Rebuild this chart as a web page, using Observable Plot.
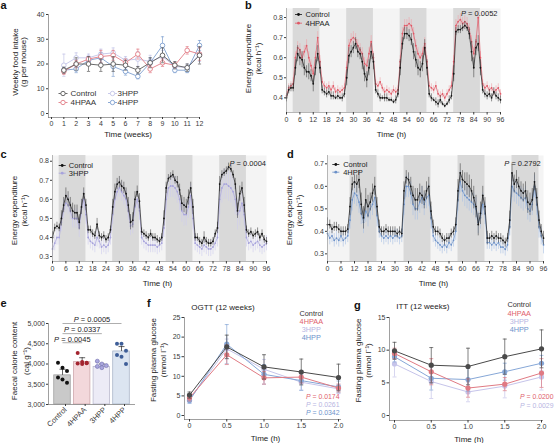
<!DOCTYPE html>
<html><head><meta charset="utf-8">
<script src="https://cdn.jsdelivr.net/npm/d3@7"></script>
<script src="https://cdn.jsdelivr.net/npm/@observablehq/plot@0.6"></script>
<style>
body{margin:0;background:#fff;}
#fig{position:relative;width:554px;height:443px;overflow:hidden;font-family:"Liberation Sans",Arial,Helvetica,sans-serif;}
.lab{position:absolute;font-weight:bold;font-size:11px;line-height:11px;color:#111;}
</style></head>
<body><div id="fig"></div>
<script>
// ---------------- DATA ----------------
const groups = ["Control","4HPAA","3HPP","4HPP"];

// (a) weekly food intake
const foodWeeks = [1,2,3,4,5,6,7,8,9,10,11,12];
const foodCtrl     = [17.5,20,20,19.5,20,19.5,17.5,20.5,23.5,19.5,18.5,23.5];
const foodCtrlErr  = [1.2,2.5,3,2.5,3,2,1.5,2,3,1.5,1.5,3.5];
const food4HPAA    = [17,20,22,23,23.5,20.5,24,18,20.5,19.5,25.5,24];
const food4HPAAErr = [1.2,1.5,1,2.5,2,1.5,2,1.5,1.5,1,1.5,2.5];
const food3HPP     = [19.5,22.5,22.5,24,24.5,21.5,22,21,23,19,18.5,24];
const food3HPPErr  = [4.5,2,1.5,2,2,1.5,3,2.5,2.5,1.5,1.5,3];
const food4HPP     = [17.5,18,21.5,22.5,19,17,15,20.5,27.5,17.5,17.5,27.5];
const food4HPPErr  = [1,1.5,1,2,4,1.5,1,2,3.5,1,1,2];

// (b,c,d) energy expenditure, hourly 0..96 h
const hours = d3.range(0, 97);
const hourTicks = [0,6,12,18,24,30,36,42,48,54,60,66,72,78,84,90,96];
const darkBD = [[3,15],[27,39],[51,63],[75,87]];
const darkD  = [[10,22],[34,46],[58,70],[82,94]];

const bCtrl = [
0.40,0.44,0.45,0.45,0.55,0.62,0.60,0.59,0.55,0.53,0.53,0.51,
0.47,0.55,0.62,0.55,0.44,0.43,0.42,0.43,0.41,0.41,0.40,0.41,
0.40,0.40,0.42,0.50,0.61,0.63,0.65,0.67,0.63,0.62,0.58,0.52,
0.49,0.55,0.63,0.58,0.44,0.42,0.40,0.40,0.40,0.40,0.39,0.39,
0.38,0.39,0.42,0.55,0.67,0.72,0.72,0.71,0.69,0.63,0.59,0.55,
0.54,0.57,0.65,0.55,0.42,0.40,0.39,0.38,0.37,0.39,0.37,0.36,
0.37,0.39,0.41,0.52,0.73,0.74,0.74,0.75,0.76,0.75,0.72,0.63,
0.55,0.65,0.67,0.55,0.44,0.42,0.41,0.42,0.40,0.43,0.41,0.40,
0.39];
const bCtrlErr = [
.02,.02,.02,.02,.04,.04,.04,.04,.04,.03,.04,.03,
.04,.04,.04,.03,.02,.02,.02,.02,.02,.02,.01,.02,
.01,.02,.02,.04,.04,.03,.03,.03,.03,.03,.04,.04,
.04,.04,.04,.04,.02,.02,.02,.01,.02,.02,.01,.01,
.01,.02,.02,.04,.03,.03,.03,.03,.03,.04,.04,.04,
.04,.04,.04,.04,.02,.02,.01,.02,.02,.02,.01,.01,
.01,.02,.02,.04,.02,.02,.02,.02,.02,.02,.03,.05,
.05,.04,.04,.04,.02,.02,.02,.02,.02,.02,.02,.02,
.02];
const b4HPAA = [
0.41,0.45,0.46,0.47,0.60,0.65,0.64,0.60,0.63,0.66,0.60,0.56,
0.52,0.60,0.70,0.58,0.48,0.46,0.45,0.46,0.44,0.46,0.43,0.44,
0.43,0.44,0.45,0.55,0.66,0.69,0.70,0.69,0.66,0.64,0.62,0.57,
0.56,0.62,0.68,0.60,0.47,0.46,0.48,0.45,0.43,0.44,0.43,0.42,
0.44,0.43,0.44,0.58,0.72,0.76,0.76,0.77,0.76,0.72,0.66,0.62,
0.60,0.62,0.67,0.58,0.46,0.45,0.44,0.46,0.42,0.41,0.42,0.40,
0.42,0.44,0.46,0.58,0.76,0.78,0.79,0.77,0.78,0.77,0.74,0.68,
0.62,0.68,0.80,0.60,0.47,0.45,0.46,0.44,0.45,0.43,0.44,0.45,
0.42];
const b4HPAAErr = [
.02,.02,.02,.03,.03,.03,.03,.03,.03,.03,.03,.03,
.03,.03,.03,.03,.02,.02,.02,.02,.02,.02,.02,.02,
.02,.02,.02,.03,.03,.03,.03,.03,.03,.03,.03,.03,
.03,.03,.03,.03,.02,.02,.02,.02,.02,.02,.02,.02,
.02,.02,.02,.03,.03,.03,.03,.03,.03,.03,.03,.03,
.03,.03,.03,.03,.02,.02,.02,.02,.02,.02,.02,.02,
.02,.02,.02,.03,.03,.03,.03,.03,.03,.03,.03,.03,
.03,.03,.03,.03,.02,.02,.02,.02,.02,.02,.02,.02,
.02];

const cCtrl = [
0.40,0.45,0.46,0.45,0.50,0.57,0.62,0.60,0.57,0.54,0.53,0.53,
0.48,0.56,0.63,0.57,0.44,0.44,0.42,0.41,0.47,0.41,0.40,0.41,
0.39,0.40,0.44,0.56,0.64,0.68,0.69,0.67,0.66,0.63,0.57,0.48,
0.49,0.60,0.64,0.59,0.43,0.42,0.41,0.40,0.42,0.40,0.40,0.39,
0.38,0.40,0.50,0.66,0.71,0.72,0.73,0.70,0.69,0.65,0.58,0.57,
0.56,0.61,0.66,0.56,0.40,0.40,0.38,0.37,0.40,0.38,0.37,0.37,
0.38,0.42,0.45,0.68,0.73,0.74,0.75,0.77,0.76,0.73,0.68,0.54,
0.63,0.66,0.57,0.44,0.42,0.43,0.41,0.42,0.43,0.40,0.42,0.39,
0.38];
const cCtrlErr = [
.03,.02,.02,.02,.04,.04,.04,.04,.04,.04,.04,.04,
.04,.04,.03,.03,.02,.02,.02,.02,.03,.02,.02,.02,
.02,.02,.02,.04,.04,.03,.03,.03,.03,.03,.04,.04,
.04,.04,.03,.04,.02,.02,.02,.02,.02,.02,.02,.02,
.02,.02,.04,.03,.02,.02,.02,.02,.03,.03,.04,.04,
.04,.04,.03,.04,.02,.02,.02,.02,.03,.02,.02,.02,
.02,.02,.03,.04,.02,.02,.02,.02,.02,.02,.03,.04,
.04,.03,.04,.02,.02,.02,.02,.02,.02,.02,.02,.02,
.02];
const c3HPP = [
0.34,0.37,0.40,0.40,0.48,0.55,0.58,0.57,0.54,0.50,0.50,0.50,
0.45,0.55,0.60,0.52,0.40,0.38,0.37,0.36,0.40,0.38,0.35,0.36,
0.35,0.36,0.40,0.52,0.60,0.64,0.66,0.64,0.62,0.60,0.54,0.46,
0.47,0.56,0.60,0.54,0.40,0.38,0.37,0.36,0.36,0.36,0.36,0.35,
0.36,0.37,0.45,0.60,0.66,0.67,0.67,0.66,0.64,0.60,0.54,0.52,
0.52,0.56,0.62,0.50,0.37,0.36,0.35,0.34,0.36,0.35,0.34,0.34,
0.35,0.37,0.40,0.60,0.66,0.68,0.68,0.67,0.66,0.64,0.60,0.52,
0.54,0.58,0.52,0.40,0.37,0.38,0.36,0.37,0.38,0.36,0.35,0.36,
0.37];
const c3HPPErr = [
.04,.04,.04,.04,.05,.05,.05,.05,.05,.05,.05,.05,
.05,.05,.05,.05,.04,.04,.04,.04,.05,.04,.04,.04,
.04,.04,.04,.05,.05,.05,.05,.05,.05,.05,.05,.05,
.05,.05,.05,.05,.04,.04,.04,.04,.04,.04,.04,.04,
.04,.04,.05,.06,.06,.06,.06,.06,.06,.06,.06,.06,
.06,.06,.06,.06,.04,.04,.04,.04,.04,.04,.04,.04,
.04,.04,.05,.08,.08,.08,.08,.08,.08,.08,.08,.08,
.08,.08,.06,.05,.04,.04,.04,.04,.04,.04,.04,.04,
.04];

const dCtrl = [
0.43,0.43,0.41,0.42,0.42,0.41,0.40,0.40,0.40,0.41,0.51,0.61,
0.62,0.61,0.63,0.52,0.46,0.54,0.51,0.53,0.57,0.60,0.51,0.42,
0.40,0.40,0.41,0.40,0.40,0.40,0.40,0.39,0.40,0.39,0.58,0.64,
0.63,0.60,0.56,0.54,0.54,0.57,0.56,0.54,0.58,0.60,0.49,0.42,
0.40,0.40,0.39,0.37,0.36,0.37,0.37,0.39,0.40,0.43,0.58,0.66,
0.63,0.62,0.61,0.60,0.58,0.55,0.51,0.43,0.48,0.56,0.51,0.37,
0.37,0.38,0.37,0.38,0.37,0.37,0.36,0.35,0.37,0.45,0.66,0.61,
0.63,0.60,0.58,0.57,0.58,0.53,0.52,0.54,0.62,0.55,0.45,0.40,
0.37];
const dCtrlErr = [
.03,.02,.02,.02,.02,.02,.02,.02,.02,.02,.04,.03,
.03,.04,.04,.05,.05,.05,.05,.04,.04,.04,.04,.03,
.02,.02,.02,.02,.02,.02,.02,.02,.02,.02,.04,.03,
.03,.04,.04,.05,.05,.04,.04,.04,.04,.04,.04,.03,
.02,.02,.02,.02,.02,.02,.02,.02,.02,.03,.05,.04,
.04,.04,.05,.05,.05,.05,.05,.05,.05,.04,.04,.03,
.02,.02,.02,.02,.02,.02,.02,.02,.02,.04,.04,.04,
.04,.04,.04,.04,.04,.05,.05,.05,.04,.04,.04,.03,
.03];
const d4HPP = [
0.39,0.37,0.38,0.36,0.37,0.36,0.38,0.36,0.37,0.38,0.45,0.54,
0.57,0.56,0.53,0.48,0.44,0.49,0.47,0.50,0.52,0.55,0.47,0.40,
0.38,0.37,0.38,0.37,0.38,0.37,0.38,0.38,0.37,0.38,0.52,0.60,
0.60,0.57,0.52,0.50,0.50,0.53,0.55,0.52,0.55,0.56,0.46,0.38,
0.36,0.35,0.34,0.33,0.34,0.33,0.35,0.34,0.36,0.40,0.54,0.62,
0.58,0.56,0.55,0.54,0.53,0.52,0.50,0.44,0.46,0.52,0.48,0.35,
0.35,0.34,0.35,0.34,0.35,0.33,0.33,0.32,0.34,0.42,0.60,0.58,
0.57,0.56,0.55,0.54,0.55,0.50,0.49,0.52,0.60,0.52,0.42,0.38,
0.34];
const d4HPPErr = [
.03,.03,.03,.03,.03,.03,.03,.03,.03,.03,.04,.05,
.05,.05,.05,.05,.05,.05,.05,.05,.05,.05,.05,.03,
.03,.03,.03,.03,.03,.03,.03,.03,.03,.03,.05,.05,
.05,.05,.05,.05,.05,.05,.05,.05,.05,.05,.05,.03,
.03,.03,.03,.03,.03,.03,.03,.03,.03,.04,.05,.05,
.05,.05,.05,.05,.05,.05,.05,.05,.05,.05,.05,.03,
.03,.03,.03,.03,.03,.03,.03,.03,.03,.04,.05,.05,
.05,.05,.05,.05,.05,.05,.05,.05,.05,.05,.05,.04,
.04];

// (e) faecal calorie content
const faecalMean = [3720, 4045, 3930, 4310];
const faecalSD   = [150, 110, 70, 120];
const faecalCtrlDots  = [4030, 3905, 3825, 3665, 3615, 3535];
const faecal4HPAADots = [4270, 4050, 4030, 4010, 4000, 4020];
const faecal3HPPDots  = [4070, 4000, 3960, 3940, 3910];
const faecal4HPPDots  = [4500, 4500, 4330, 4220, 4180, 4000];
const faecalCompare = ["4HPAA", "3HPP", "4HPP"];
const faecalP = ["P = 0.0045", "P = 0.0337", "P = 0.0005"];

// (f) OGTT
const gluTimes = [0, 0.5, 1, 1.5, 2];
const ogttCtrl = [5.2, 17.5, 12.4, 11.1, 9.7],   ogttCtrlErr = [0.8, 3, 3.1, 3.3, 3.4];
const ogtt4HPAA = [4.5, 15.5, 9.6, 9.8, 7.0],    ogtt4HPAAErr = [0.8, 2.5, 1.6, 1.5, 1];
const ogtt3HPP = [4.0, 17.0, 11.8, 8.5, 6.8],    ogtt3HPPErr = [0.8, 2.5, 2.5, 2, 1.2];
const ogtt4HPP = [3.8, 18.2, 10.5, 8.9, 7.3],    ogtt4HPPErr = [0.7, 5, 2.5, 2.5, 1.5];
const ogttP = ["P = 0.0174", "P = 0.0261", "P = 0.0342"];
// (g) ITT
const ittCtrl = [9.9, 7.7, 7.5, 9.0, 10.2],      ittCtrlErr = [1.3, 2.7, 2.8, 2.7, 2.9];
const itt4HPAA = [9.5, 6.7, 4.2, 4.8, 6.5],      itt4HPAAErr = [0.8, 2, 1.4, 1, 2.2];
const itt3HPP = [7.9, 5.2, 3.6, 4.5, 5.9],       itt3HPPErr = [2, 2.6, 1.5, 1.8, 2];
const itt4HPP = [9.0, 5.7, 5.5, 6.7, 8.0],       itt4HPPErr = [0.8, 1.8, 1.8, 1.3, 1.2];
const ittP = ["P = 0.0200", "P = 0.0029"];

// ---------------- STYLE ----------------
const FONT = '"Liberation Sans", Arial, Helvetica, sans-serif';
const baseStyle = {fontFamily: FONT, fontSize: "7px", color: "#3a3a3a", background: "transparent", overflow: "visible"};
const hLine = {draw(ctx, size) { const w = Math.sqrt(size / Math.PI); ctx.moveTo(-w, 0); ctx.lineTo(w, 0); }};
const fig = document.getElementById("fig");

function italicP(svg) {
  d3.select(svg).selectAll("text").each(function () {
    const t = this.textContent;
    if (/^P = /.test(t) && this.children.length === 0) {
      this.textContent = "";
      d3.select(this).append("tspan").attr("font-style", "italic").text("P");
      d3.select(this).append("tspan").text(t.slice(1));
    }
  });
}
function place(svg, left, top) {
  svg.style.position = "absolute";
  svg.style.left = left + "px";
  svg.style.top = top + "px";
  svg.style.maxWidth = "none";
  italicP(svg);
  fig.appendChild(svg);
}
function letter(ch, left, top) {
  const d = document.createElement("div");
  d.className = "lab"; d.textContent = ch;
  d.style.left = left + "px"; d.style.top = top + "px";
  fig.appendChild(d);
}
// frame-anchored text with explicit anchors
function ftext(str, o) {
  return Plot.text([str], {text: d => d, textAnchor: "middle", lineAnchor: "middle", ...o});
}
function seriesMarks(R, x, o) {
  const ec = o.ecol || o.col, ew = o.ew || 0.7;
  const m = [Plot.ruleX(R, {x, y1: d => d.v - d.e, y2: d => d.v + d.e, stroke: ec, strokeWidth: ew})];
  if (o.cap) {
    m.push(Plot.dot(R, {x, y: d => d.v + d.e, symbol: hLine, r: o.cap, stroke: ec, strokeWidth: ew, fill: "none"}));
    m.push(Plot.dot(R, {x, y: d => d.v - d.e, symbol: hLine, r: o.cap, stroke: ec, strokeWidth: ew, fill: "none"}));
  }
  m.push(Plot.line(R, {x, y: "v", stroke: o.col, strokeWidth: o.lw || 0.9}));
  m.push(Plot.dot(R, {x, y: "v", r: o.r, fill: o.open ? "white" : o.col, stroke: o.open ? o.col : "none", strokeWidth: 0.9}));
  return m;
}
const rowsOf = (xs, v, e) => xs.map((x, i) => ({x, v: v[i], e: e[i]}));

// ---------------- PANEL a ----------------
{
  const colA = {Control: "#5a5a5a", "4HPAA": "#e27d86", "3HPP": "#c3c4e8", "4HPP": "#7fa0d0"};
  const S = {
    Control: rowsOf(foodWeeks, foodCtrl, foodCtrlErr),
    "4HPAA": rowsOf(foodWeeks, food4HPAA, food4HPAAErr),
    "3HPP": rowsOf(foodWeeks, food3HPP, food3HPPErr),
    "4HPP": rowsOf(foodWeeks, food4HPP, food4HPPErr)
  };
  const order = ["3HPP", "4HPP", "4HPAA", "Control"];
  const leg = [["Control", 14.5, 22, -24], ["4HPAA", 14.5, 22, -15], ["3HPP", 64, 69, -24], ["4HPP", 64, 69, -15]];
  const svg = Plot.plot({
    width: 230, height: 140, marginLeft: 48, marginRight: 31, marginTop: 14, marginBottom: 23,
    style: baseStyle,
    x: {domain: [0, 12], range: [51, 199]},
    y: {domain: [0, 40], range: [113, 14]},
    marks: [
      Plot.frame({anchor: "left", stroke: "#777", strokeWidth: 0.7}),
      Plot.frame({anchor: "bottom", stroke: "#777", strokeWidth: 0.7}),
      Plot.axisX({ticks: d3.range(0, 13), tickFormat: d => String(d), tickSize: 2, tickPadding: 1.5, label: null}),
      Plot.axisY({ticks: [0, 10, 20, 30, 40], tickSize: 2, tickPadding: 2, label: null}),
      ...order.flatMap(g => seriesMarks(S[g], "x", {col: colA[g], cap: 1.6, r: 2.3, open: true, lw: 0.9})),
      ...leg.flatMap(([g, dm, dt, dy]) => [
        Plot.dot([0], {frameAnchor: "bottom-left", dx: dm, dy, symbol: hLine, r: 4.5, stroke: colA[g], strokeWidth: 0.9, fill: "none"}),
        Plot.dot([0], {frameAnchor: "bottom-left", dx: dm, dy, r: 2.2, stroke: colA[g], fill: "white", strokeWidth: 0.9}),
        ftext(g, {frameAnchor: "bottom-left", dx: dt, dy, textAnchor: "start", fontSize: 8, fill: "#333"})
      ]),
      ftext("Time (weeks)", {frameAnchor: "bottom", dx: 4, dy: 17, fontSize: 8, fill: "#222"}),
      ftext("Weekly food intake\n(g per mouse)", {frameAnchor: "left", dx: -29, dy: -4, rotate: -90, fontSize: 8, lineHeight: 1.0, fill: "#222"})
    ]
  });
  place(svg, 0, 0);
}

// ---------------- PANELS b, c, d ----------------
function eePanel(o) {
  const C = rowsOf(hours, o.ctrl, o.ctrlErr), T = rowsOf(hours, o.trt, o.trtErr);
  const legItems = [["Control", "#111"], [o.trtName, o.trtColor]];
  return Plot.plot({
    width: o.width, height: o.height, marginLeft: o.ml, marginRight: o.mr, marginTop: o.mt, marginBottom: o.mb,
    style: baseStyle,
    x: {domain: [0, 96]}, y: {domain: o.ydomain},
    marks: [
      Plot.frame({fill: "#f4f4f4", stroke: "none"}),
      Plot.rect(o.dark, {x1: d => d[0], x2: d => d[1], fill: "#d9d9d9"}),
      ...seriesMarks(T, "x", {col: o.trtColor, ecol: o.trtErrColor, r: 0.9, lw: 0.7, ew: 0.6}),
      ...seriesMarks(C, "x", {col: "#151515", ecol: "#4a4a4a", r: 0.9, lw: 0.7, ew: 0.6}),
      Plot.frame({anchor: "left", stroke: "#888", strokeWidth: 0.6}),
      Plot.frame({anchor: "bottom", stroke: "#888", strokeWidth: 0.6}),
      Plot.axisX({ticks: hourTicks, tickSize: 2.5, tickPadding: 2, label: null}),
      Plot.axisY({ticks: o.yticks, tickSize: 2, tickPadding: 1.5, tickFormat: d3.format(".1f"), label: null}),
      ...legItems.flatMap(([g, col], i) => [
        Plot.dot([0], {frameAnchor: "top-left", dx: o.leg[0], dy: o.leg[2] + i * o.leg[3], symbol: hLine, r: 3.5, stroke: col, strokeWidth: 0.8, fill: "none"}),
        Plot.dot([0], {frameAnchor: "top-left", dx: o.leg[0], dy: o.leg[2] + i * o.leg[3], r: 1.4, fill: col, stroke: "none"}),
        ftext(g, {frameAnchor: "top-left", dx: o.leg[1], dy: o.leg[2] + i * o.leg[3], textAnchor: "start", fontSize: 7.5, fill: "#222"})
      ]),
      ftext(o.pText, {frameAnchor: "top-right", dx: o.pdx, dy: o.pdy, textAnchor: "end", fontSize: 7.5, fill: "#222"}),
      ftext("Time (h)", {frameAnchor: "bottom", dx: -2, dy: 22, fontSize: 8, fill: "#222"}),
      ftext("Energy expenditure\n(kcal h⁻¹)", {frameAnchor: "left", dx: -33.5, dy: o.ldy, rotate: -90, fontSize: 8, lineHeight: 1.15, fill: "#222"})
    ]
  });
}
place(eePanel({width: 314, height: 140, ml: 46, mr: 54, mt: 8, mb: 28, ydomain: [0.327, 0.845], yticks: [0.4, 0.5, 0.6, 0.7, 0.8],
  dark: darkBD, ctrl: bCtrl, ctrlErr: bCtrlErr, trt: b4HPAA, trtErr: b4HPAAErr, trtName: "4HPAA", trtColor: "#e05866", trtErrColor: "#eea3aa",
  leg: [12, 19, 6, 8.7], pText: "P = 0.0052", pdx: -3, pdy: 4.7, ldy: -2}), 240, 0);
place(eePanel({width: 277, height: 150, ml: 52, mr: 11, mt: 15, mb: 29, ydomain: [0.274, 0.83], yticks: [0.3, 0.4, 0.5, 0.6, 0.7, 0.8],
  dark: darkBD, ctrl: cCtrl, ctrlErr: cCtrlErr, trt: c3HPP, trtErr: c3HPPErr, trtName: "3HPP", trtColor: "#a7a3dc", trtErrColor: "#cfcdef",
  leg: [9.7, 16.3, 10, 7.7], pText: "P = 0.0004", pdx: -0.5, pdy: 7.7, ldy: 2}), 0, 140);
place(eePanel({width: 277, height: 150, ml: 50, mr: 11, mt: 15, mb: 29, ydomain: [0.266, 0.737], yticks: [0.3, 0.4, 0.5, 0.6, 0.7],
  dark: darkD, ctrl: dCtrl, ctrlErr: dCtrlErr, trt: d4HPP, trtErr: d4HPPErr, trtName: "4HPP", trtColor: "#6a90c8", trtErrColor: "#a9c1e4",
  leg: [8.3, 15.7, 9, 7.7], pText: "P = 0.2792", pdx: -2.7, pdy: 7.7, ldy: 2}), 277, 140);

// ---------------- PANEL e ----------------
{
  const barFill = ["#c9c9c9", "#f3d8db", "#ecebf6", "#dce5f1"];
  const barStroke = ["#9a9a9a", "#c9a0a5", "#b4b3c8", "#a0aec2"];
  const dotFill = ["#111111", "#a3242f", "#aaa7dd", "#3e5e98"];
  const dotStroke = ["none", "none", "#6e6bad", "none"];
  const bars = groups.map((g, i) => ({i, g, mean: faecalMean[i], sd: faecalSD[i]}));
  const dotSets = [faecalCtrlDots, faecal4HPAADots, faecal3HPPDots, faecal4HPPDots];
  const dots = dotSets.flatMap((arr, i) => arr.map((v, k) => ({i, k, v})));
  const levels = [4525, 4750, 5000];
  const brackets = faecalCompare.map((g, j) => ({i2: groups.indexOf(g), p: faecalP[j], y: levels[j]}));
  const halfW = 0.42;
  const svg = Plot.plot({
    width: 150, height: 153, marginLeft: 48, marginRight: 16, marginTop: 33, marginBottom: 39,
    style: baseStyle,
    x: {domain: [0, 3], range: [62, 121]},
    y: {domain: [3000, 5000]},
    marks: [
      Plot.rectY(bars, {x1: d => d.i - halfW, x2: d => d.i + halfW, y1: 3000, y2: "mean", fill: d => barFill[d.i], stroke: d => barStroke[d.i], strokeWidth: 0.7}),
      Plot.ruleX(bars, {x: "i", y1: "mean", y2: d => d.mean + d.sd, stroke: "#222", strokeWidth: 0.7}),
      Plot.dot(bars, {x: "i", y: d => d.mean + d.sd, symbol: hLine, r: 3, stroke: "#222", strokeWidth: 0.7, fill: "none"}),
      ...[0, 1, 2].map(m => Plot.dot(dots.filter(d => d.k % 3 === m), {x: "i", y: "v", dx: (m - 1) * 4.5, r: 2, fill: d => dotFill[d.i], stroke: d => dotStroke[d.i], strokeWidth: 0.6})),
      Plot.link(brackets, {x1: 0, x2: "i2", y1: "y", y2: "y", stroke: "#999", strokeWidth: 0.8}),
      Plot.text(brackets, {x: d => d.i2 / 2, y: "y", text: "p", textAnchor: "middle", lineAnchor: "bottom", dy: -1.2, fontSize: 7.5, fill: "#222"}),
      Plot.frame({anchor: "left", stroke: "#777", strokeWidth: 0.7}),
      Plot.frame({anchor: "bottom", stroke: "#777", strokeWidth: 0.7}),
      Plot.axisY({ticks: [3000, 3500, 4000, 4500, 5000], tickFormat: d3.format(","), tickSize: 2, tickPadding: 1.5, label: null}),
      Plot.axisX({ticks: [0, 1, 2, 3], tickFormat: i => groups[i], tickRotate: -45, tickSize: 2, tickPadding: 2, fontSize: 7.5, label: null, dx: 3}),
      ftext("Faecal calorie content\n(cal g⁻¹)", {frameAnchor: "left", dx: -29, dy: -3, rotate: -90, fontSize: 8, lineHeight: 1.45, fill: "#222"})
    ]
  });
  place(svg, 0, 290);
}

// ---------------- PANELS f, g ----------------
const gluColors = {Control: "#4a4a4a", "4HPAA": "#e07a83", "3HPP": "#c6c4ea", "4HPP": "#86a7d7"};
const gluText = {Control: "#333333", "4HPAA": "#e0616c", "3HPP": "#b7b5e2", "4HPP": "#6d93cb"};
function gluPanel(o) {
  const order = ["3HPP", "4HPP", "4HPAA", "Control"];
  return Plot.plot({
    width: o.width, height: 153, marginLeft: o.ml, marginRight: o.mr, marginTop: 27, marginBottom: o.mb,
    style: baseStyle,
    x: {domain: [0, 2], range: o.xr},
    y: {domain: [0, o.ymax], range: [125, 27]},
    marks: [
      Plot.frame({anchor: "left", stroke: "#777", strokeWidth: 0.7}),
      Plot.frame({anchor: "bottom", stroke: "#777", strokeWidth: 0.7}),
      Plot.axisX({ticks: gluTimes, tickFormat: d => d === 0 ? "0" : d.toFixed(1), tickSize: 2.5, tickPadding: 1.5, label: null}),
      Plot.axisY({ticks: o.yticks, tickSize: 2.5, tickPadding: 1.5, label: null}),
      ...order.flatMap(g => seriesMarks(rowsOf(gluTimes, o.S[g][0], o.S[g][1]), "x", {col: gluColors[g], cap: 2, r: 2.6, lw: 1, ew: 0.7})),
      ...groups.map((g, i) => ftext(g, {frameAnchor: "top-left", dx: o.legDx, dy: o.legDy[i], fontSize: 7.3, fill: gluText[g]})),
      ...o.p.map((p, i) => ftext(p, {frameAnchor: "bottom-right", dx: o.pdx, dy: o.pdy[i], textAnchor: "end", fontSize: 6.9, fill: gluText[o.pGroups[i]]})),
      ftext(o.title, {frameAnchor: "top-left", dx: 6.7, dy: o.tdy, textAnchor: "start", fontSize: 8, fill: "#222"}),
      ftext("Time (h)", {frameAnchor: "bottom", dx: 3, dy: 18.5, fontSize: 8, fill: "#222"}),
      ftext("Fasting plasma glucose\n(mmol l⁻¹)", {frameAnchor: "left", dx: -26.5, dy: -8.5, rotate: -90, fontSize: 8, lineHeight: 1.15, fill: "#222"})
    ]
  });
}
place(gluPanel({width: 204, ml: 34, mr: 14, mb: 24, xr: [39, 188], ymax: 25, yticks: [0, 5, 10, 15, 20, 25],
  S: {Control: [ogttCtrl, ogttCtrlErr], "4HPAA": [ogtt4HPAA, ogtt4HPAAErr], "3HPP": [ogtt3HPP, ogtt3HPPErr], "4HPP": [ogtt4HPP, ogtt4HPPErr]},
  legDx: 126.8, legDy: [-4, 4, 12, 20], p: ogttP, pGroups: ["4HPAA", "3HPP", "4HPP"], pdx: -1, pdy: [-22.8, -14.8, -6.8],
  title: "OGTT (12 weeks)", tdy: -10.3}), 150, 290);
place(gluPanel({width: 200, ml: 35, mr: 12, mb: 23, xr: [40, 187], ymax: 15, yticks: [0, 5, 10, 15],
  S: {Control: [ittCtrl, ittCtrlErr], "4HPAA": [itt4HPAA, itt4HPAAErr], "3HPP": [itt3HPP, itt3HPPErr], "4HPP": [itt4HPP, itt4HPPErr]},
  legDx: 129.7, legDy: [-13, -4.3, 4, 12], p: ittP, pGroups: ["4HPAA", "3HPP"], pdx: 11, pdy: [-23.3, -15],
  title: "ITT (12 weeks)", tdy: -11}), 354, 290);

// ---------------- panel letters ----------------
letter("a", 0.5, 0); letter("b", 245, 0); letter("c", 0.5, 148.7); letter("d", 287, 148.7);
letter("e", 0.5, 297.7); letter("f", 147, 297.7); letter("g", 354, 299.5);
</script></body></html>
